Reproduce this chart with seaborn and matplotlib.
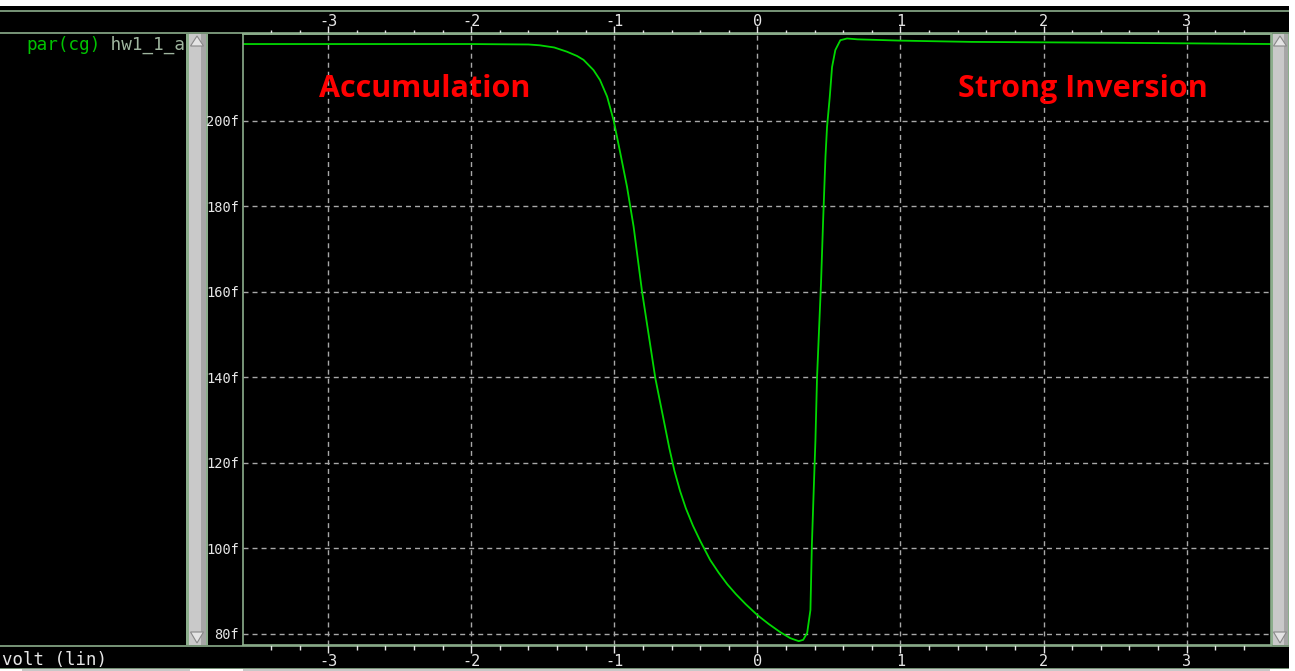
import numpy as np
import pandas as pd
import matplotlib
matplotlib.use("Agg")
import matplotlib.pyplot as plt
import seaborn as sns
from matplotlib.ticker import MultipleLocator, FuncFormatter
from matplotlib.patches import Rectangle, Polygon
from matplotlib.lines import Line2D

# ---------------- data ----------------
volt = [-3.6, -2.0, -1.6, -1.52, -1.42, -1.33, -1.26, -1.215, -1.145, -1.10,
        -1.05, -1.005, -0.958, -0.911, -0.865, -0.806, -0.713, -0.615, -0.58,
        -0.54, -0.50, -0.45, -0.40, -0.33, -0.27, -0.21, -0.15, -0.08, 0.0,
        0.08, 0.16, 0.23, 0.289, 0.32,
        0.348, 0.371, 0.381, 0.394, 0.406, 0.417, 0.431, 0.445, 0.459, 0.476,
        0.487, 0.506, 0.522, 0.545, 0.58, 0.627, 0.70, 1.0, 1.5, 2.5, 3.6]
cg_fF = [218.0, 218.0, 217.9, 217.7, 217.2, 216.2, 215.2, 214.3, 211.9, 209.6,
         205.7, 200.2, 192.5, 184.6, 175.3, 160.1, 139.8, 123.4, 118.2,
         113.4, 109.4, 105.3, 101.8, 97.3, 94.3, 91.6, 89.3, 86.9, 84.4,
         82.3, 80.4, 79.0, 78.3, 78.6,
         80.2, 85.6, 100.8, 113.7, 125.4, 139.9, 151.1, 162.1, 176.1, 191.6,
         198.6, 205.6, 212.6, 216.6, 218.9, 219.3, 219.1, 218.8, 218.5, 218.3,
         218.0]
x_ticks = [-3, -2, -1, 0, 1, 2, 3]
y_ticks = [80, 100, 120, 140, 160, 180, 200]
region_labels = ["Accumulation", "Strong Inversion"]
region_x = [-2.325, 2.276]
region_y = [205.7, 205.7]
legend_name = "par(cg)"
legend_suffix = " hw1_1_a"
x_axis_name = "volt (lin)"

df = pd.DataFrame({"volt": volt, "cg": cg_fF})

# ---------------- style ----------------
sns.set_theme(style="dark")
plt.rcParams["font.family"] = ["DejaVu Sans Mono", "DejaVu Sans"]
plt.rcParams["axes.unicode_minus"] = False

W, H = 1295, 671
PX = 0.72  # points per pixel at dpi 100
fig = plt.figure(figsize=(W / 100, H / 100), dpi=100, facecolor="black")

def fx(px):
    return px / W

def fy(py):
    return 1 - py / H

SAGE = "#8cae8c"
TICKC = "#e6e6e6"
GRID = "#a8a8a8"

# main axes
L, R, T, B = 243, 1271, 34, 645
ax = fig.add_axes([fx(L), fy(B), (R - L) / W, (B - T) / H])
ax.set_facecolor("black")
ax.set_zorder(10)

sns.lineplot(data=df, x="volt", y="cg", ax=ax, color="#00d800", linewidth=1.3,
             sort=False, estimator=None)

ax.set_xlim(-3.595, 3.59)
ax.set_ylim(77.4, 220.35)
ax.set_xlabel("")
ax.set_ylabel("")

ax.set_xticks(x_ticks)
ax.set_yticks(y_ticks)
ax.xaxis.set_minor_locator(MultipleLocator(0.2))
ax.yaxis.set_minor_locator(MultipleLocator(4))
ax.yaxis.set_major_formatter(FuncFormatter(lambda v, p: f"{v:.0f}f"))

ax.tick_params(axis="x", which="major", direction="out", length=8 * PX, width=1,
               color=TICKC, labelcolor=TICKC, labelsize=11, pad=0.5,
               top=False, bottom=True, labeltop=False, labelbottom=True)
ax.tick_params(axis="x", which="minor", direction="out", length=4.5 * PX, width=1,
               color=TICKC, top=False, bottom=True)
ax.tick_params(axis="y", which="major", direction="out", length=4 * PX, width=1,
               color=TICKC, labelcolor=TICKC, labelsize=9.8, pad=0)
ax.tick_params(axis="y", which="minor", direction="out", length=2.5 * PX, width=1,
               color=TICKC)

# top axis (same scale)
sec = ax.secondary_xaxis("top")
sec.set_xticks(x_ticks)
sec.xaxis.set_minor_locator(MultipleLocator(0.2))
sec.tick_params(axis="x", which="major", direction="out", length=8 * PX, width=1,
                color=TICKC, labelcolor=TICKC, labelsize=11, pad=-2.0)
sec.tick_params(axis="x", which="minor", direction="out", length=4.5 * PX, width=1,
                color=TICKC)
sec.spines["top"].set_color(SAGE)
sec.spines["top"].set_linewidth(1.2)

ax.grid(True, which="major", color=GRID, linestyle=(0, (3.6, 2.9)), linewidth=1.0)
ax.grid(False, which="minor")
for s in ax.spines.values():
    s.set_visible(True)
    s.set_color(SAGE)
    s.set_linewidth(1.2)

for lab, xx, yy in zip(region_labels, region_x, region_y):
    ax.text(xx, yy, lab, color="#ff0000", fontsize=22, fontweight="bold",
            family="Open Sans", ha="center", va="baseline")

# ---------------- decoration around the axes ----------------
def hline(py, x0, x1, color=SAGE, lw=1.2):
    fig.add_artist(Line2D([fx(x0), fx(x1)], [fy(py), fy(py)], color=color,
                          linewidth=lw, transform=fig.transFigure))

def rect(x0, y0, x1, y1, fc, ec="none", lw=0, z=1):
    fig.add_artist(Rectangle((fx(x0), fy(y1)), fx(x1) - fx(x0), fy(y0) - fy(y1),
                             facecolor=fc, edgecolor=ec, linewidth=lw,
                             transform=fig.transFigure, zorder=z))

def tri(pts, fc="#e4e4e4", ec="#888888"):
    fig.add_artist(Polygon([(fx(a), fy(b)) for a, b in pts], closed=True,
                           facecolor=fc, edgecolor=ec, linewidth=0.8,
                           transform=fig.transFigure, zorder=3))

# white margins
rect(0, 0, W, 6, "white", z=15)
rect(1289, 0, W, H, "white", z=15)
rect(0, 669, W, H, "white", z=4)

# strip borders
hline(11, 0, 1289)
hline(33, 0, 1289)
hline(645.5, 0, 1289)
hline(668.5, 0, 1289)

# bottom scroll strip fragments
rect(22, 669, 190, H, "#c8c8c8", z=6)
rect(243, 669, 1270, H, "#c8c8c8", z=6)

# left scrollbar
rect(186, 34, 208, 645, SAGE, z=2)
rect(189, 34, 205.5, 645, "#c9c9c9", z=2)
rect(201.5, 34, 205.5, 645, "#a6a6a6", z=2)
tri([(197, 36), (190.5, 46), (203.5, 46)])
tri([(197, 643), (190.5, 632), (203.5, 632)])

# right scrollbar
rect(1271, 34, 1289, 645, SAGE, z=2)
rect(1273, 34, 1288, 645, "#c9c9c9", z=2)
rect(1284, 34, 1288, 645, "#a6a6a6", z=2)
tri([(1280, 36), (1273.5, 46), (1286.5, 46)])
tri([(1280, 643), (1273.5, 632), (1286.5, 632)])

# legend panel text
t1 = fig.text(fx(26), fy(50), legend_name, color="#00c400", fontsize=12.7,
              va="baseline", ha="left")
fig.canvas.draw()
bb = t1.get_window_extent()
fig.text(bb.x1 / W, fy(50), legend_suffix, color="#9fb59f", fontsize=12.7,
         va="baseline", ha="left")

fig.text(fx(2), fy(665), x_axis_name, color="#e6e6e6", fontsize=12.5,
         va="baseline", ha="left")

fig.savefig("out.png", dpi=100, facecolor=fig.get_facecolor())
